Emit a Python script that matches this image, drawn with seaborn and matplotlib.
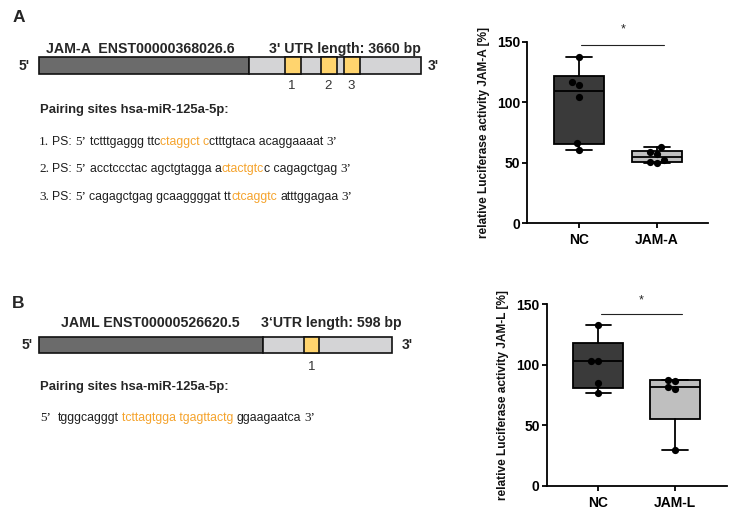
import numpy as np
import pandas as pd
import matplotlib
matplotlib.use("Agg")
import matplotlib.pyplot as plt
from matplotlib.patches import Rectangle
import seaborn as sns


# luciferase assay values [%]
groups_a = ["NC", "JAM-A"]
nc_a = [137.0, 116.7, 114.5, 104.3, 66.6, 60.8]
jam_a = [62.5, 59.0, 57.5, 52.5, 50.5, 49.5]

groups_b = ["NC", "JAM-L"]
nc_b = [132.9, 103.4, 103.1, 84.6, 76.9]
jam_l = [87.7, 86.8, 81.6, 80.2, 29.5]

yticks = [0, 50, 100, 150]

# gene schematics, as fractions of the bar length
cds_end_a = 0.55
sites_a = [(0.644, 0.685), (0.739, 0.780), (0.800, 0.841)]
cds_end_b = 0.635
sites_b = [(0.751, 0.793)]

# pairing sites: (text, style) with style k = black, o = orange, s = serif
ps_lines_a = [
    [("1.", "s"), (" PS:", "k"), (" 5\u2019", "s"), (" tctttgaggg ttc", "k"),
     ("ctaggct c", "o"), ("ctttgtaca acaggaaaat", "k"), (" 3\u2019", "s")],
    [("2.", "s"), (" PS:", "k"), (" 5\u2019", "s"), (" acctccctac agctgtagga a", "k"),
     ("ctactgtc", "o"), ("c cagagctgag", "k"), (" 3\u2019", "s")],
    [("3.", "s"), (" PS:", "k"), (" 5\u2019", "s"), (" cagagctgag gcaaggggat tt", "k"),
     ("ctcaggtc", "o"), (" atttggagaa", "k"), (" 3\u2019", "s")],
]
ps_lines_b = [
    [("5\u2019", "s"), ("  tgggcagggt", "k"), (" tcttagtgga tgagttactg", "o"),
     (" ggaagaatca", "k"), (" 3\u2019", "s")],
]

ORANGE = "#F5A32C"
TXT = "#1e1e1e"
SANS = ["Liberation Sans", "DejaVu Sans"]
SERIF = ["Liberation Serif", "DejaVu Serif"]


def rich_line(ax, x, y, parts, size=8.8):
    prev = None
    pad = 0.0
    for text, style in parts:
        fam = SERIF if style == "s" else SANS
        col = ORANGE if style == "o" else TXT
        fs = size * 1.08 if style == "s" else size
        n_lead = len(text) - len(text.lstrip(" "))
        pad += n_lead * 0.27 * size
        text = text.strip(" ")
        if prev is None:
            prev = ax.text(x, y, text, fontsize=fs, family=fam, color=col,
                           ha="left", va="center")
        else:
            prev = ax.annotate(text, xy=(1, 0), xycoords=prev,
                               xytext=(pad, 0), textcoords="offset points",
                               fontsize=fs, family=fam, color=col,
                               ha="left", va="bottom")
        pad = 0.0


def gene_bar(ax, x0, x1, y0, h, cds_end, sites):
    L = x1 - x0
    xc = x0 + cds_end * L
    ax.add_patch(Rectangle((x0, y0), xc - x0, h, fc="#6b6b6b", ec="#111111", lw=1.2))
    ax.add_patch(Rectangle((xc, y0), x1 - xc, h, fc="#d4d4d6", ec="#111111", lw=1.2))
    for s0, s1 in sites:
        ax.add_patch(Rectangle((x0 + s0 * L, y0), (s1 - s0) * L, h,
                               fc="#FFD46E", ec="#111111", lw=1.2))
    return [x0 + 0.5 * (s0 + s1) * L for s0, s1 in sites]


def box_stats(vals):
    v = np.asarray(vals)
    q1, med, q3 = np.percentile(v, [25, 50, 75], method="weibull")
    return dict(med=med, q1=q1, q3=q3, whislo=v.min(), whishi=v.max(), fliers=[])


def luciferase_box(ax, groups, a, b, ylabel, xlim, sig_y, star_y):
    df = pd.DataFrame({"group": [groups[0]] * len(a) + [groups[1]] * len(b),
                       "value": a + b})
    ax.set_xlim(*xlim)
    ax.set_ylim(0, 150)
    bp = ax.bxp([box_stats(a), box_stats(b)], positions=[0, 1], widths=0.65,
                capwidths=0.33, patch_artist=True, showfliers=False,
                manage_ticks=False,
                boxprops=dict(lw=1.3, ec="black"),
                medianprops=dict(lw=1.3, color="black"),
                whiskerprops=dict(lw=1.3, color="black"),
                capprops=dict(lw=1.3, color="black"))
    for patch, fc in zip(bp["boxes"], ["#3a3a3a", "#bfbfbf"]):
        patch.set_facecolor(fc)
    sns.swarmplot(data=df, x="group", y="value", order=groups, color="black",
                  size=5.2, ax=ax, zorder=3)
    ax.set_xlim(*xlim)
    ax.set_ylim(0, 150)
    ax.set_xticks([0, 1])
    ax.set_xticklabels(groups, fontsize=10, fontweight="bold", color="black")
    ax.set_yticks(yticks)
    ax.set_yticklabels([str(t) for t in yticks], fontsize=10, fontweight="bold",
                       color="black")
    ax.set_xlabel("")
    ax.set_ylabel(ylabel, fontsize=8.6, fontweight="bold", labelpad=5, color="#111111")
    ax.tick_params(direction="out", length=3.6, width=1.3, color="black", pad=1.5)
    ax.tick_params(axis="x", pad=3.5)
    sns.despine(ax=ax)
    for sp in ["left", "bottom"]:
        ax.spines[sp].set_linewidth(1.3)
        ax.spines[sp].set_color("black")
    ax.plot([0.03, 1.09], [sig_y, sig_y], color="#222222", lw=0.8, clip_on=False)
    ax.text(0.56, star_y, "*", ha="center", va="center", fontsize=9, clip_on=False)


def main():
    sns.set_theme(style="ticks")
    plt.rcParams["font.family"] = SANS
    fig = plt.figure(figsize=(7.36, 5.15), dpi=100)

    # left side: gene schematics in pixel coordinates
    ax0 = fig.add_axes([0, 0, 1, 1])
    ax0.set_xlim(0, 736)
    ax0.set_ylim(515, 0)
    ax0.axis("off")

    ax0.text(13, 17, "A", fontsize=12.5, fontweight="bold", ha="left", va="center")
    ax0.text(46, 49, "JAM-A  ENST00000368026.6", fontsize=10.2, fontweight="bold",
             ha="left", va="center")
    ax0.text(421, 49, "3' UTR length: 3660 bp", fontsize=10.2, fontweight="bold",
             ha="right", va="center")
    centers = gene_bar(ax0, 39.3, 420.7, 57, 17, cds_end_a, sites_a)
    ax0.text(30, 65.5, "5'", fontsize=10, fontweight="bold", ha="right", va="center")
    ax0.text(428, 65.5, "3'", fontsize=10, fontweight="bold", ha="left", va="center")
    for i, cx in enumerate(centers):
        ax0.text(cx - 1, 86, str(i + 1), fontsize=9.5, color="#333333",
                 ha="center", va="center")
    ax0.text(40, 110, "Pairing sites hsa-miR-125a-5p:", fontsize=9.4,
             fontweight="bold", ha="left", va="center")
    for i, parts in enumerate(ps_lines_a):
        rich_line(ax0, 39, 141.7 + i * 27.5, parts)

    ax0.text(12, 303, "B", fontsize=12.5, fontweight="bold", ha="left", va="center")
    ax0.text(61, 323, "JAML ENST00000526620.5", fontsize=10.2, fontweight="bold",
             ha="left", va="center")
    ax0.text(402, 323, "3\u2018UTR length: 598 bp", fontsize=10.2, fontweight="bold",
             ha="right", va="center")
    centers = gene_bar(ax0, 39, 392, 336.7, 16.6, cds_end_b, sites_b)
    ax0.text(33, 345, "5'", fontsize=10, fontweight="bold", ha="right", va="center")
    ax0.text(402, 345, "3'", fontsize=10, fontweight="bold", ha="left", va="center")
    for i, cx in enumerate(centers):
        ax0.text(cx, 367, str(i + 1), fontsize=9.5, color="#333333",
                 ha="center", va="center")
    ax0.text(40, 386.7, "Pairing sites hsa-miR-125a-5p:", fontsize=9.4,
             fontweight="bold", ha="left", va="center")
    for parts in ps_lines_b:
        rich_line(ax0, 40, 418.3, parts)

    # right side: luciferase box plots
    ax1 = fig.add_axes([527 / 736, 1 - 223 / 515, 181 / 736, 181.3 / 515])
    luciferase_box(ax1, groups_a, nc_a, jam_a,
                   "relative Luciferase activity JAM-A [%]",
                   (-0.667, 1.654), 147.5, 160)

    ax2 = fig.add_axes([546.7 / 736, 1 - 485.7 / 515, 180 / 736, 181.4 / 515])
    luciferase_box(ax2, groups_b, nc_b, jam_l,
                   "relative Luciferase activity JAM-L [%]",
                   (-0.673, 1.674), 142.3, 153)

    fig.savefig("out.png", dpi=100, facecolor="white")


if __name__ == "__main__":
    main()
